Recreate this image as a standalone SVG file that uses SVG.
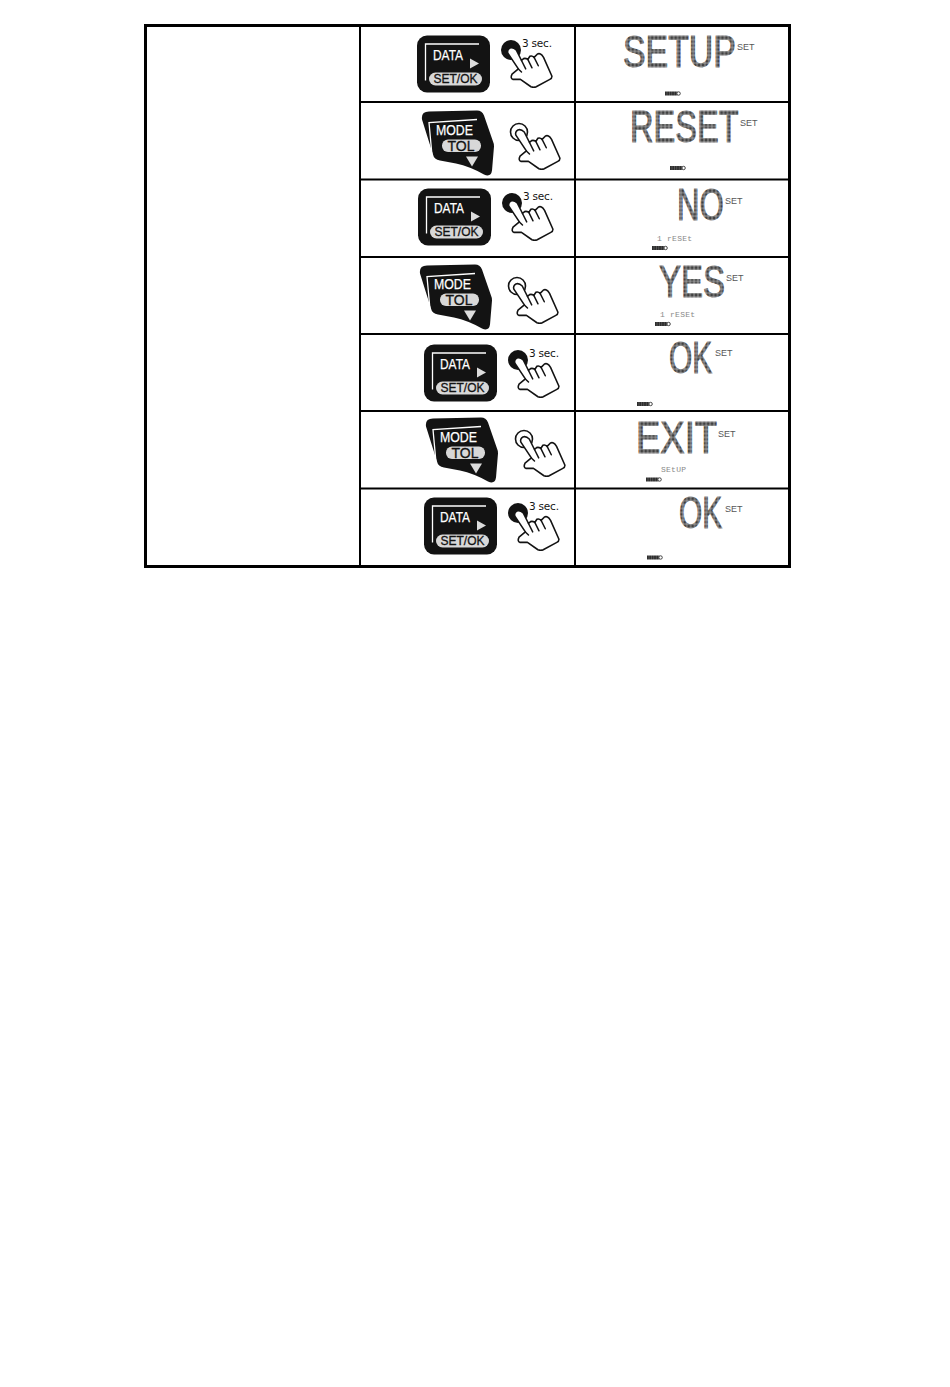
<svg xmlns="http://www.w3.org/2000/svg" width="950" height="1387" viewBox="0 0 950 1387">
<style>
.grid{fill:none;stroke:#000}
.lbl{font-family:"Liberation Sans",Arial,sans-serif}
.dt{font-size:15px;fill:#fff;stroke:#fff;stroke-width:.25}
.pt{font-size:13px;fill:#111;text-anchor:middle;stroke:#111;stroke-width:.3}
.sec{font-family:"DejaVu Sans",sans-serif;font-size:10.5px;fill:#111}
.lcd{font-family:"Liberation Sans",Arial,sans-serif;font-size:44px;stroke-width:.9;stroke-linejoin:miter}
.set{font-family:"Liberation Sans",Arial,sans-serif;font-size:9px;fill:#555}
.sub{font-family:"Liberation Mono",monospace;font-size:8px;fill:#888}
.ln{fill:none;stroke:#fff;stroke-width:1.3}
.hl{fill:none;stroke:#111;stroke-width:1.4;stroke-linejoin:round;stroke-linecap:round}
.gray{opacity:.99}
</style>
<defs>
<pattern id="dots" width="3.9" height="3.9" patternUnits="userSpaceOnUse">
<rect width="3.9" height="3.9" fill="#b5b5b5"/>
<rect x="0.4" y="0.4" width="3.1" height="3.1" fill="#3f3f3f"/>
</pattern>
<pattern id="d77" href="#dots" patternTransform="scale(1.299,1)"/>
<pattern id="d74" href="#dots" patternTransform="scale(1.351,1)"/>
<pattern id="d71" href="#dots" patternTransform="scale(1.408,1)"/>
<pattern id="d75" href="#dots" patternTransform="scale(1.333,1)"/>
<pattern id="d68" href="#dots" patternTransform="scale(1.471,1)"/>
<pattern id="d83" href="#dots" patternTransform="scale(1.205,1)"/>
<pattern id="bat" width="2.4" height="4" patternUnits="userSpaceOnUse">
<rect width="2.4" height="4" fill="#2c2c2c"/><rect x="1.9" width="0.5" height="4" fill="#777"/>
</pattern>
<g id="dataBtn">
<rect x="0" y="0" width="73" height="57" rx="10" fill="#111"/>
<path class="ln" d="M8.5,45V8.5H62"/>
<path d="M53,23L62,28L53,33Z" fill="#ddd"/>
<rect x="12" y="37" width="53" height="13" rx="6.5" fill="#d8d8d8"/>
</g>
<g id="modeBtn">
<path d="M2,9Q1,1 9,1L57,0Q62,0 64,5L73,31Q74,33 74,36L72,60Q71,67 64,64Q50,56 36,53L20,50Q14,49 13,44Z" fill="#111"/>
<path class="ln" d="M12,45L9,12L57,9"/>
<rect x="22" y="29" width="39" height="12.5" rx="6" fill="#d8d8d8"/>
<path d="M46,46H58L52,56Z" fill="#ddd"/>
</g>
<g id="hand">
<g transform="scale(1.05)">
<path d="M-3,3L7,18L1,23Q-1,27 2,28L9,28L19,35Q22,36 24,35L37,28Q39,27 39,25L31,7Q28,2 25,4L22,7Q20,5 18,6L16,9Q13,7 11,9L10,10L5,0Q2,-3 -1,-2Q-4,0 -3,3Z" fill="#fff" stroke="#111" stroke-width="1.5" stroke-linejoin="round"/>
<path class="hl" d="M16,9L20,17M22,7L26,15M10,10L14,18M7,18L10,21"/>
</g>
</g>
<g id="bt">
<rect x="0" y="0" width="12.5" height="4" fill="url(#bat)"/>
<circle cx="13.6" cy="2" r="1.7" fill="#fff" stroke="#333" stroke-width="0.9"/>
</g>
</defs>
<rect width="950" height="1387" fill="#fff"/>
<g id="table">
<rect class="grid" x="145.5" y="25.5" width="644" height="541" stroke-width="3"/>
<path class="grid" stroke-width="2" d="M360,25V567M575,25V567M360,102H789M360,179.5H789M360,257H789M360,334H789M360,411H789M360,488.5H789"/>
</g>
<g id="connectors"/>

<g id="btn1" class="gray" transform="translate(417,35.5)"><use href="#dataBtn"/><text class="lbl dt" x="16" y="24" textLength="30" lengthAdjust="spacingAndGlyphs">DATA</text><text class="lbl pt" x="38.5" y="47.5" textLength="44" lengthAdjust="spacingAndGlyphs">SET/OK</text></g>
<g id="hand1" class="gray" transform="translate(511,50)"><circle r="10" fill="#111"/><use href="#hand"/><text class="sec" x="11" y="-3" textLength="30">3 sec.</text></g>
<g id="lcd1" class="gray"><text class="lcd" transform="translate(623,67) scale(.77,1)" fill="url(#d77)" stroke="url(#d77)">SETUP</text><text class="set" x="737" y="50">SET</text><use href="#bt" x="665" y="91.5"/></g>

<g id="btn2" class="gray" transform="translate(420,110.5)"><use href="#modeBtn"/><text class="lbl dt" x="16" y="24" textLength="37" lengthAdjust="spacingAndGlyphs">MODE</text><text class="lbl pt" x="41" y="40" style="font-size:14px">TOL</text></g>
<g id="hand2" class="gray" transform="translate(519,132)"><circle r="8.5" fill="#fff" stroke="#111" stroke-width="1.6"/><use href="#hand"/></g>
<g id="lcd2" class="gray"><text class="lcd" transform="translate(630,142) scale(.74,1)" fill="url(#d74)" stroke="url(#d74)">RESET</text><text class="set" x="740" y="126">SET</text><use href="#bt" x="670" y="166"/></g>

<g id="btn3" class="gray" transform="translate(418,188.5)"><use href="#dataBtn"/><text class="lbl dt" x="16" y="24" textLength="30" lengthAdjust="spacingAndGlyphs">DATA</text><text class="lbl pt" x="38.5" y="47.5" textLength="44" lengthAdjust="spacingAndGlyphs">SET/OK</text></g>
<g id="hand3" class="gray" transform="translate(512,203)"><circle r="10" fill="#111"/><use href="#hand"/><text class="sec" x="11" y="-3" textLength="30">3 sec.</text></g>
<g id="lcd3" class="gray"><text class="lcd" transform="translate(677,220) scale(.71,1)" fill="url(#d71)" stroke="url(#d71)">NO</text><text class="set" x="725" y="204">SET</text><text class="sub" x="657" y="241" textLength="35">1 rESEt</text><use href="#bt" x="652" y="246"/></g>

<g id="btn4" class="gray" transform="translate(418,264.5)"><use href="#modeBtn"/><text class="lbl dt" x="16" y="24" textLength="37" lengthAdjust="spacingAndGlyphs">MODE</text><text class="lbl pt" x="41" y="40" style="font-size:14px">TOL</text></g>
<g id="hand4" class="gray" transform="translate(517,286)"><circle r="8.5" fill="#fff" stroke="#111" stroke-width="1.6"/><use href="#hand"/></g>
<g id="lcd4" class="gray"><text class="lcd" transform="translate(659,297) scale(.75,1)" fill="url(#d75)" stroke="url(#d75)">YES</text><text class="set" x="726" y="281">SET</text><text class="sub" x="660" y="317" textLength="35">1 rESEt</text><use href="#bt" x="655" y="322"/></g>

<g id="btn5" class="gray" transform="translate(424,344.5)"><use href="#dataBtn"/><text class="lbl dt" x="16" y="24" textLength="30" lengthAdjust="spacingAndGlyphs">DATA</text><text class="lbl pt" x="38.5" y="47.5" textLength="44" lengthAdjust="spacingAndGlyphs">SET/OK</text></g>
<g id="hand5" class="gray" transform="translate(518,360)"><circle r="10" fill="#111"/><use href="#hand"/><text class="sec" x="11" y="-3" textLength="30">3 sec.</text></g>
<g id="lcd5" class="gray"><text class="lcd" transform="translate(669,373) scale(.68,1)" fill="url(#d68)" stroke="url(#d68)">OK</text><text class="set" x="715" y="356">SET</text><use href="#bt" x="637" y="402"/></g>

<g id="btn6" class="gray" transform="translate(424,417.5)"><use href="#modeBtn"/><text class="lbl dt" x="16" y="24" textLength="37" lengthAdjust="spacingAndGlyphs">MODE</text><text class="lbl pt" x="41" y="40" style="font-size:14px">TOL</text></g>
<g id="hand6" class="gray" transform="translate(524,439)"><circle r="8.5" fill="#fff" stroke="#111" stroke-width="1.6"/><use href="#hand"/></g>
<g id="lcd6" class="gray"><text class="lcd" transform="translate(636,453) scale(.83,1)" fill="url(#d83)" stroke="url(#d83)">EXIT</text><text class="set" x="718" y="437">SET</text><text class="sub" x="661" y="472" textLength="25">SEtUP</text><use href="#bt" x="646" y="477.5"/></g>

<g id="btn7" class="gray" transform="translate(424,497.5)"><use href="#dataBtn"/><text class="lbl dt" x="16" y="24" textLength="30" lengthAdjust="spacingAndGlyphs">DATA</text><text class="lbl pt" x="38.5" y="47.5" textLength="44" lengthAdjust="spacingAndGlyphs">SET/OK</text></g>
<g id="hand7" class="gray" transform="translate(518,513)"><circle r="10" fill="#111"/><use href="#hand"/><text class="sec" x="11" y="-3" textLength="30">3 sec.</text></g>
<g id="lcd7" class="gray"><text class="lcd" transform="translate(679,528) scale(.68,1)" fill="url(#d68)" stroke="url(#d68)">OK</text><text class="set" x="725" y="512">SET</text><use href="#bt" x="647" y="555.5"/></g>
</svg>
